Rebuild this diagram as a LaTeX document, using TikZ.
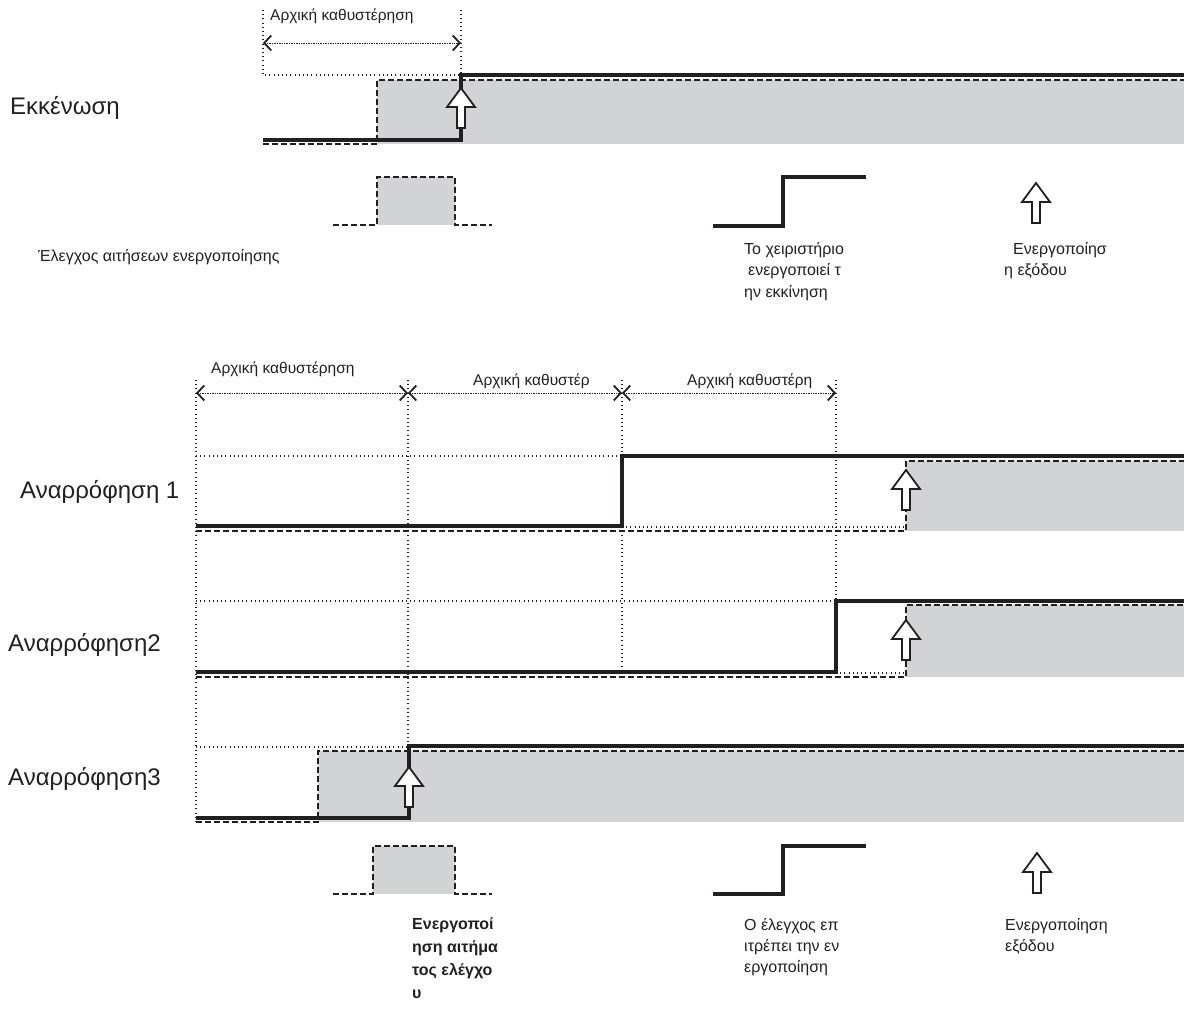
\documentclass[tikz,border=0pt]{standalone}
\usepackage{fontspec}
\setmainfont{Liberation Sans}
\usepackage{tikz}
\usetikzlibrary{arrows.meta}
\definecolor{ink}{RGB}{35,31,32}
\definecolor{sigfill}{RGB}{209,211,212}

\begin{document}
\begin{tikzpicture}[
  x=1pt, y=-1pt,
  small/.style={font=\fontsize{15.5}{21.5}\selectfont, text=ink, inner sep=0pt},
  rowlabel/.style={font=\fontsize{24}{28}\selectfont, text=ink, inner sep=0pt, anchor=west},
  note/.style={small, font=\fontsize{16}{21.5}\selectfont, align=left, anchor=north west},
  level/.style={draw=ink, line width=4pt, line join=miter},
  request/.style={draw=ink, line width=2.4pt, dash pattern=on 6pt off 3pt},
  active/.style={fill=sigfill, draw=none},
  grid/.style={draw=ink, line width=1.1pt, dash pattern=on 1pt off 3.2pt},
  delay/.style={draw=ink, line width=0.8pt, dash pattern=on 0.8pt off 0.9pt,
    {Straight Barb[length=7pt,width=15pt,line width=1.8pt]}-{Straight Barb[length=7pt,width=15pt,line width=1.8pt]}},
  outarrow/.pic={
    \draw[ink, line width=1.8pt, fill=white, miter limit=10]
      (0,0) -- (14,19) -- (4,19) -- (4,40) -- (-4,40) -- (-4,19) -- (-14,19) -- cycle;
  }
]
\useasboundingbox (0,0) rectangle (1184,1011);

% Εκκένωση
\fill[active] (377,80) rectangle (1184,144);
\draw[grid] (263,10) -- (263,75) -- (461,75) -- (461,10);
\draw[delay] (263,43) -- (461,43);
\node[small, anchor=west] (delay0) at (270,16) {Αρχική καθυστέρηση};
\draw[request] (263,144) -- (377,144) -- (377,80) -- (1184,80);
\draw[level] (263,140) -- (461,140) -- (461,75) -- (1184,75);
\pic at (461,88) {outarrow};
\node[rowlabel] (evac) at (10,108) {Εκκένωση};

% υπόμνημα
\fill[active] (377,177) rectangle (455,225);
\draw[request] (333,225) -- (377,225) -- (377,177) -- (455,177) -- (455,225) -- (492,225);
\node[small, font=\fontsize{16}{21.5}\selectfont, anchor=west] (reqnote) at (38,257) {Έλεγχος αιτήσεων ενεργοποίησης};
\draw[level] (713,226) -- (783,226) -- (783,177) -- (866,177);
\node[note] (handlenote) at (744,242) {Το χειριστήριο\\\hspace*{4pt}ενεργοποιεί τ\\ην εκκίνηση};
\pic at (1036,183) {outarrow};
\node[note] (outnote) at (1004,242) {\hspace*{9pt}Ενεργοποίησ\\η εξόδου};

% Αναρρόφηση
\fill[active] (906,461) rectangle (1184,531);
\fill[active] (906,605) rectangle (1184,677);
\fill[active] (318,751) rectangle (1184,822);
\draw[grid] (196,380) -- (196,822);
\draw[grid] (408,380) -- (408,747);
\draw[grid] (622,380) -- (622,673);
\draw[grid] (836,380) -- (836,601);
\draw[grid] (196,456) -- (622,456);
\draw[grid] (196,601) -- (836,601);
\draw[grid] (196,747) -- (408,747);
\draw[grid] (622,527) -- (906,527);
\draw[grid] (836,673) -- (906,673);
\draw[delay] (196,393) -- (408,393);
\draw[delay] (408,393) -- (622,393);
\draw[delay] (622,393) -- (836,393);
\node[small, anchor=west] (delay1) at (211,369) {Αρχική καθυστέρηση};
\node[small, anchor=west] (delay2) at (473,381) {Αρχική καθυστέρ};
\node[small, anchor=west] (delay3) at (687,381) {Αρχική καθυστέρη};

\draw[request] (196,531) -- (906,531) -- (906,461) -- (1184,461);
\draw[level] (196,526) -- (622,526) -- (622,456) -- (1184,456);
\pic at (906,470) {outarrow};
\node[rowlabel] (suct1) at (20,492) {Αναρρόφηση 1};

\draw[request] (196,677) -- (906,677) -- (906,605) -- (1184,605);
\draw[level] (196,672) -- (836,672) -- (836,601) -- (1184,601);
\pic at (906,620) {outarrow};
\node[rowlabel] (suct2) at (8,645) {Αναρρόφηση2};

\draw[request] (196,822) -- (318,822) -- (318,751) -- (1184,751);
\draw[level] (196,818) -- (409,818) -- (409,746) -- (1184,746);
\pic at (409,767) {outarrow};
\node[rowlabel] (suct3) at (8,779) {Αναρρόφηση3};

% υπόμνημα
\fill[active] (373,846) rectangle (455,894);
\draw[request] (333,894) -- (373,894) -- (373,846) -- (455,846) -- (455,894) -- (492,894);
\node[note, font=\fontsize{16}{22.7}\selectfont\bfseries] (reqactive) at (412,918) {Ενεργοποί\\ηση αιτήμα\\τος ελέγχο\\υ};
\draw[level] (713,894) -- (783,894) -- (783,846) -- (866,846);
\node[note, font=\fontsize{16}{21}\selectfont] (allownote) at (744,918) {Ο έλεγχος επ\\ιτρέπει την εν\\εργοποίηση};
\pic at (1037,853) {outarrow};
\node[note, font=\fontsize{16}{21}\selectfont] (outnote2) at (1005,918) {Ενεργοποίηση\\εξόδου};
\end{tikzpicture}
\end{document}
